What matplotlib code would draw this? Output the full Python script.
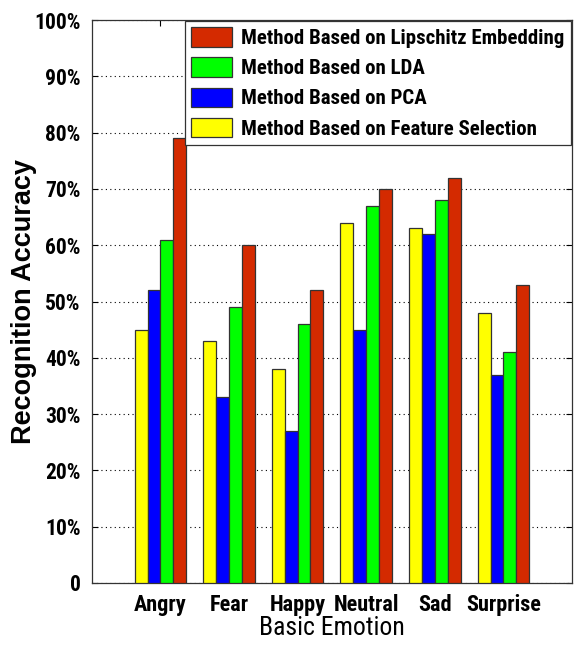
import matplotlib
matplotlib.use("Agg")
import matplotlib.pyplot as plt
import numpy as np
from matplotlib import font_manager

categories = ["Angry", "Fear", "Happy", "Neutral", "Sad", "Surprise"]
feature_selection = [45, 43, 38, 64, 63, 48]
pca = [52, 33, 27, 45, 62, 37]
lda = [61, 49, 46, 67, 68, 41]
lipschitz = [79, 60, 52, 70, 72, 53]
series_names = ["Method Based on Feature Selection", "Method Based on PCA",
                "Method Based on LDA", "Method Based on Lipschitz Embedding"]
yticks = [0, 10, 20, 30, 40, 50, 60, 70, 80, 90, 100]
ytick_labels = ["0", "10%", "20%", "30%", "40%", "50%", "60%", "70%", "80%", "90%", "100%"]

fl = font_manager.fontManager.ttflist
def has_bold(name):
    return any(f.name == name and (f.weight in (700, "bold") or (isinstance(f.weight, int) and f.weight >= 600)) for f in fl)
narrow = "Liberation Sans"
for cand in ["Liberation Sans Narrow", "Arial Narrow", "Roboto Condensed", "PT Sans Narrow",
             "Archivo Narrow", "Asap Condensed", "Barlow Semi Condensed"]:
    if has_bold(cand):
        narrow = cand
        break

fig = plt.figure(figsize=(5.74, 6.47), dpi=100)
ax = fig.add_axes([0.160, 0.099, 0.8365, 0.870])

colors = ["#FFFF00", "#0000FF", "#00FF00", "#D42A00"]
data = [feature_selection, pca, lda, lipschitz]
x = np.arange(1, len(categories) + 1)
w = 0.1875
handles = []
for i, (vals, c, n) in enumerate(zip(data, colors, series_names)):
    b = ax.bar(x + (i - 1.5) * w, vals, width=w, color=c, edgecolor="#333333",
               linewidth=0.9, label=n, zorder=3)
    handles.append(b)

ax.set_xlim(0, 7)
ax.set_ylim(0, 100)
ax.set_yticks(yticks)
ax.set_yticklabels(ytick_labels, fontfamily=narrow, fontweight="bold", fontsize=15.5)
ax.set_xticks(x)
ax.set_xticklabels(categories, fontfamily=narrow, fontweight="bold", fontsize=16)
ax.tick_params(axis="both", direction="in", top=True, right=True, length=4, width=0.8, pad=8)
ax.tick_params(axis="x", pad=8)
ax.grid(axis="y", linestyle=(0, (1, 3)), color="black", linewidth=0.8, zorder=0)
for s in ax.spines.values():
    s.set_linewidth(0.9)
    s.set_color("#333333")

ax.set_xlabel("Basic Emotion", fontfamily=narrow, fontsize=18.5, labelpad=0)
ax.set_ylabel("Recognition Accuracy", fontfamily="Liberation Sans", fontweight="bold", fontsize=19.5)
ax.yaxis.set_label_coords(-0.115, 0.5)

leg = ax.legend(handles[::-1], series_names[::-1], loc="upper right",
                prop={"family": narrow, "weight": "bold", "size": 15},
                fancybox=False, framealpha=1, edgecolor="#333333",
                borderpad=0.3, labelspacing=0.45, handlelength=1.95, handleheight=1.05,
                handletextpad=0.45, borderaxespad=0.05)
leg.get_frame().set_linewidth(0.9)

fig.savefig("out.png", dpi=100)
